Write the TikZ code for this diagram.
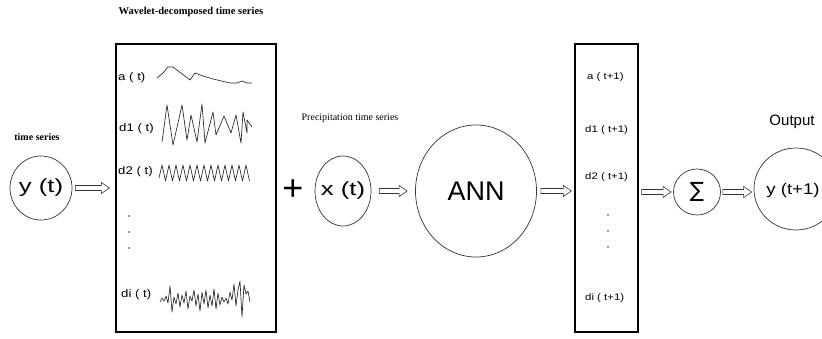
\documentclass[tikz,border=0pt]{standalone}
\usepackage{fontspec}
\setmainfont{Liberation Serif}
\setsansfont{Liberation Sans}
\newfontfamily\lsw[FakeStretch=1.2]{Liberation Sans}
\newfontfamily\lswb[FakeStretch=1.35]{Liberation Sans}
\newfontfamily\symf{DejaVu Sans}
\usetikzlibrary{calc,shapes.geometric}
\begin{document}
\begin{tikzpicture}[x=1pt,y=-1pt,
  circ/.style={draw=black!80,line width=0.7pt,ellipse,inner sep=0pt},
  box/.style={draw,line width=1.3pt,rectangle,inner sep=0pt},
  labl/.style={font=\lsw\fontsize{11}{12}\selectfont,anchor=west,inner sep=0pt},
  labr/.style={font=\lsw\fontsize{9.5}{10}\selectfont,anchor=west,inner sep=0pt},
  sig/.style={line width=0.65pt,line join=round,draw=black!85},
  dotm/.style={fill=black!80},
  harrow/.style={draw=black!80,line width=0.6pt,
    to path={let \p1=(\tikztostart), \p2=(\tikztotarget) in
      ({\x1},{\y1+2.5pt}) -- ({\x2-8pt},{\y1+2.5pt}) -- ({\x2-8pt},{\y1+5.5pt}) -- ({\x2},{\y1})
      -- ({\x2-8pt},{\y1-5.5pt}) -- ({\x2-8pt},{\y1-2.5pt}) -- ({\x1},{\y1-2.5pt}) -- cycle}}
]
\useasboundingbox[fill=white] (0,0) rectangle (822,338);

% titles
\node[font=\bfseries\fontsize{10.5}{12}\selectfont] (t1) at (191,12) {Wavelet-decomposed time series};
\node[font=\bfseries\fontsize{10}{12}\selectfont] (t2) at (37,137) {time series};
\node[font=\fontsize{10}{12}\selectfont] (t3) at (350,118) {Precipitation time series};
\node[font=\sffamily\fontsize{15}{16}\selectfont] (t4) at (792,122) {Output};

% circles
\node[circ,minimum width=62,minimum height=64] (yt) at (41,188) {};
\node[font=\lswb\fontsize{19}{20}\selectfont] (ytl) at (yt.center) {y (t)};
\node[circ,minimum width=56,minimum height=70] (xt) at (343,191) {};
\node[font=\lswb\fontsize{19}{20}\selectfont] (xtl) at (xt.center) {x (t)};
\node[circ,minimum width=121,minimum height=132] (ann) at (476,191) {};
\node[font=\sffamily\fontsize{27}{28}\selectfont] (annl) at (ann.center) {ANN};
\node[circ,minimum width=47,minimum height=46] (sum) at (697,192) {};
\node[font=\symf\fontsize{21}{22}\selectfont] (suml) at (sum.center) {∑};
\node[circ,minimum width=84,minimum height=82] (yt1) at (796,189) {};
\node[font=\lsw\fontsize{15.5}{17}\selectfont,inner sep=0pt] (yt1l) at (793,190) {y (t+1)};

% plus
\node[font=\sffamily\fontsize{36}{36}\selectfont,inner sep=0pt] (plus) at (293,190) {+};

% boxes
\node[box,minimum width=160,minimum height=288] (wbox) at (196,188) {};
\node[box,minimum width=63,minimum height=288] (rbox) at (606.5,188) {};

% left box labels
\node[labl] (la) at (118,78) {a ( t)};
\node[labl] (ld1) at (119,129) {d1 ( t)};
\node[labl] (ld2) at (118,172) {d2 ( t)};
\node[labl] (ldi) at (121,295) {di ( t)};
\foreach \yy in {216,232,248} \fill[dotm] (129,\yy) circle (0.8);

% right box labels
\node[labr] (ra) at (587,77) {a ( t+1)};
\node[labr] (rd1) at (585,130) {d1 ( t+1)};
\node[labr] (rd2) at (585,177) {d2 ( t+1)};
\node[labr] (rdi) at (585,298) {di ( t+1)};
\foreach \yy in {215,231,247} \fill[dotm] (608,\yy) circle (0.8);

% signals
\draw[sig] plot coordinates {(157,78) (163,73) (168,67) (173,67) (190,80) (195,73) (203,76) (213,79) (230,83) (237,83) (242,81) (247,83) (252,83)};
\draw[sig] plot coordinates {(162,142) (167,105) (173,145) (182,105) (187,140) (191,115) (197,142) (202,104) (205,143) (213,112) (216,135) (224,116) (231,133) (236,115) (241,143) (243,112) (247,133) (247,120) (252,127)};
\draw[sig] (159,178) \foreach \i in {0,...,12} { -- ({162+7*\i},165) -- ({165.5+7*\i},181) };
\draw[sig] plot coordinates {(160,302) (162,298) (164,301) (166,296) (168,303) (170,286) (172,312) (174,297) (176,304) (178,293) (180,307) (182,295) (184,303) (186,291) (188,309) (190,296) (192,301) (194,290) (196,306) (198,294) (200,311) (202,292) (204,304) (206,290) (208,308) (210,295) (212,306) (214,289) (216,309) (218,293) (220,305) (222,297) (224,302) (226,298) (228,304) (230,292) (232,300) (234,284) (236,306) (238,290) (240,281) (242,317) (244,285) (246,294) (248,291) (250,302)};

% arrows
\coordinate (p1) at ($(yt.east)+(3,0)$);
\coordinate (p2) at ($(yt.east -| wbox.west)+(-6,0)$);
\draw[harrow] (p1) to (p2);
\coordinate (q1) at ($(xt.east)+(8,0)$);
\coordinate (q2) at ($(xt.east -| ann.west)+(-8,0)$);
\draw[harrow] (q1) to (q2);
\coordinate (r1) at ($(ann.east)+(4,0)$);
\coordinate (r2) at ($(ann.east -| rbox.west)+(-3,0)$);
\draw[harrow] (r1) to (r2);
\coordinate (s1) at ($(sum.west -| rbox.east)+(3,0)$);
\coordinate (s2) at ($(sum.west)+(-2,0)$);
\draw[harrow] (s1) to (s2);
\coordinate (u1) at ($(sum.east)+(2,0)$);
\coordinate (u2) at ($(sum.east -| yt1.west)+(-2,0)$);
\draw[harrow] (u1) to (u2);
\end{tikzpicture}
\end{document}
